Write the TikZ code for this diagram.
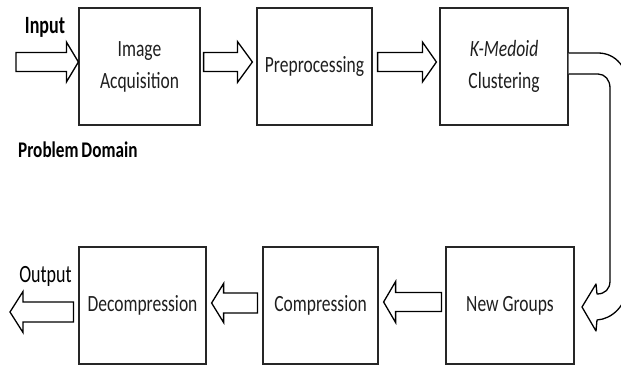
\documentclass[tikz,border=0pt]{standalone}
\usepackage{fontspec}
\usepackage{graphicx}
\setmainfont{Carlito}
\usetikzlibrary{calc}
\newcommand\bt[1]{\scalebox{1}[1.33]{\begin{tabular}{@{}c@{}}#1\end{tabular}}}
\newcommand\lb[2][1.38]{\scalebox{1}[#1]{#2}}
% #1 tail, #2 tip, #3 dir, #4 head len, #5 shaft half, #6 head half
\newcommand\harrow[6]{%
\draw[barr] let \p1=#1, \p2=#2 in
 (\x1,{\y2+#5pt}) -- ({\x2-#3*#4pt},{\y2+#5pt}) -- ({\x2-#3*#4pt},{\y2+#6pt}) -- (\x2,\y2)
 -- ({\x2-#3*#4pt},{\y2-#6pt}) -- ({\x2-#3*#4pt},{\y2-#5pt}) -- (\x1,{\y2-#5pt}) -- cycle;}
\begin{document}
\begin{tikzpicture}[x=1pt,y=-1pt,
  boxnode/.style={draw=black!85,line width=1.2pt,fill=white,inner sep=0pt,minimum height=117pt,
    text=black!88,font=\fontsize{17.5}{24}\selectfont},
  barr/.style={draw=black,line width=1.3pt,fill=white,line join=miter},
  lbl/.style={inner sep=0pt,text=black,font=\fontsize{18}{22}\selectfont}]
\useasboundingbox (0,0) rectangle (621,367);
\clip (0,0) rectangle (621,367);
% rows
\coordinate (rowA) at (0,62);
\coordinate (rowB) at (0,302);
\coordinate (rowC) at (0,303);
\coordinate (rowD) at (0,312);
% boxes
\node[boxnode,minimum width=121pt] (b1) at (139.5,66.5) {\bt{Image\\Acquisition}};
\node[boxnode,minimum width=115pt] (b2) at (314.5,66.5) {\bt{Preprocessing}};
\node[boxnode,minimum width=128pt] (b3) at (504,66.5) {\bt{\itshape K-Medoid\\Clustering}};
\node[boxnode,minimum width=127pt] (dec) at (142.5,305.5) {\bt{Decompression}};
\node[boxnode,minimum width=115pt] (comp) at (320.5,305.5) {\bt{Compression}};
\node[boxnode,minimum width=128pt] (ng) at (510,305.5) {\bt{New Groups}};
% labels
\node[lbl,anchor=base,font=\fontsize{18}{22}\selectfont\bfseries] (inlbl) at (45,33) {\lb{Input}};
\node[lbl,anchor=base] (outlbl) at (45.5,282) {\lb{Output}};
\node[lbl,anchor=base west,font=\fontsize{17.2}{20}\selectfont\bfseries] (pd) at (18,157) {\lb[1.3]{Problem\hspace{-1pt} Domain}};
% free ends
\coordinate (inStart) at (16,62);
\coordinate (outEnd) at (10,312);
% block arrows
\harrow{(inStart)}{(b1.west |- rowA)}{1}{12}{9.5}{20}
\harrow{($(b1.east |- rowA)+(3,0)$)}{($(b2.west |- rowA)+(-4,0)$)}{1}{15}{9.5}{20.5}
\harrow{($(b2.east |- rowA)+(5,0)$)}{($(b3.west |- rowA)+(-3,0)$)}{1}{14}{9.5}{20}
\harrow{($(ng.west |- rowB)+(-4,0)$)}{($(comp.east |- rowB)+(5,0)$)}{-1}{12}{9.5}{20.5}
\harrow{($(comp.west |- rowC)+(-5,0)$)}{($(dec.east |- rowC)+(5,0)$)}{-1}{12}{10}{19.5}
\harrow{($(dec.west |- rowD)+(-5,0)$)}{(outEnd)}{-1}{13}{10}{20.5}
% curved arrow from K-Medoid Clustering to New Groups
\draw[barr,line join=round] (b3.east |- 0,53) -- (598,53) .. controls (616,53) and (628,68) .. (628,88)
  -- (628,286) .. controls (626,306) and (612,319) .. (597,320) -- (596,331) -- (582,307)
  -- (596,284) -- (597,294) .. controls (605,294) and (610,289) .. (610,281)
  -- (610,88) .. controls (610,80) and (605,74) .. (598,74) -- (b3.east |- 0,74);
\end{tikzpicture}
\end{document}
